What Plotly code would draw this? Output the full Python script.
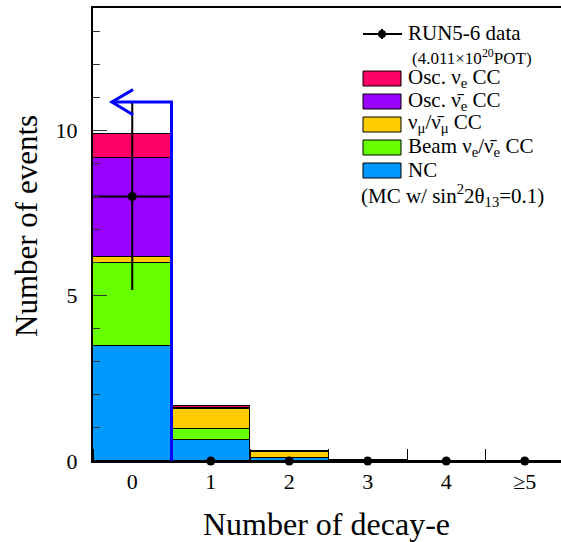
import numpy as np
import plotly.graph_objects as go

# ---- data -------------------------------------------------------------
bin_centers = [0, 1, 2, 3, 4, 5]
bin_labels = ["0", "1", "2", "3", "4", "≥5"]

nc = [3.49, 0.65, 0.08, 0.01, 0.0, 0.0]
beam_nue = [2.51, 0.33, 0.02, 0.0, 0.0, 0.0]
numu_cc = [0.18, 0.60, 0.18, 0.02, 0.0, 0.0]
osc_nuebar = [2.97, 0.01, 0.0, 0.0, 0.0, 0.0]
osc_nue = [0.74, 0.06, 0.01, 0.0, 0.0, 0.0]

data_counts = [8, 0, 0, 0, 0, 0]

cut_edge = 0.5        # selection: 0 decay-e
arrow_level = 10.86   # height of the cut arrow

FONT = "Liberation Serif"
COLORS = {
    "osc_nue": "#FF0066",
    "osc_nuebar": "#9900FF",
    "numu": "#FFCC00",
    "beam": "#66FF00",
    "nc": "#0099FF",
}

# ---- frame geometry (pixels) -------------------------------------------
W, H = 561, 542
L, R, T, B = 93, 0, 8, 81
plot_w = W - L - R
plot_h = H - T - B
px_per_bin = 78.5
x_range = [-0.5, -0.5 + plot_w / px_per_bin]
y_range = [0, 13.7]


def px(x):
    return (x - L) / plot_w


def py(y):
    return (H - B - y) / plot_h


fig = go.Figure()

stack = [
    ("NC", nc, COLORS["nc"]),
    ("Beam", beam_nue, COLORS["beam"]),
    ("numu", numu_cc, COLORS["numu"]),
    ("Osc nuebar", osc_nuebar, COLORS["osc_nuebar"]),
    ("Osc nue", osc_nue, COLORS["osc_nue"]),
]
for name, vals, col in stack:
    fig.add_trace(go.Bar(
        x=bin_centers, y=vals, name=name, width=1.0,
        marker=dict(color=col, line=dict(color="black", width=1)),
        showlegend=False, hoverinfo="skip",
    ))

errs = np.sqrt(np.array(data_counts, dtype=float))
fig.add_trace(go.Scatter(
    x=bin_centers, y=data_counts, mode="markers",
    marker=dict(color="black", size=9),
    error_y=dict(type="data", array=errs, width=0, thickness=2, color="black"),
    error_x=dict(type="constant", value=0.5, width=0, thickness=2, color="black"),
    cliponaxis=False, showlegend=False, hoverinfo="skip",
))

# ---- cut arrow ----------------------------------------------------------
blue = "#0000FF"
tip_x = -0.26
fig.add_shape(type="path",
              path=f"M {cut_edge} 0 L {cut_edge} {arrow_level} L {tip_x} {arrow_level}",
              line=dict(color=blue, width=3), layer="above")
fig.add_shape(type="path",
              path=f"M 0.01 {arrow_level + 0.37} L {tip_x} {arrow_level} L 0.01 {arrow_level - 0.39}",
              line=dict(color=blue, width=3), layer="above")

# ---- legend (drawn by hand) --------------------------------------------
annots = []


def label(x, y, text, size):
    annots.append(dict(xref="paper", yref="paper", x=px(x), y=py(y), text=text,
                       showarrow=False, xanchor="left", yanchor="middle",
                       font=dict(family=FONT, size=size, color="black")))


# data entry
fig.add_shape(type="line", xref="paper", yref="paper",
              x0=px(363), x1=px(402), y0=py(34), y1=py(34),
              line=dict(color="black", width=2))
fig.add_shape(type="line", xref="paper", yref="paper",
              x0=px(382), x1=px(382), y0=py(29), y1=py(39),
              line=dict(color="black", width=2))
fig.add_shape(type="circle", xref="paper", yref="paper",
              xsizemode="pixel", ysizemode="pixel",
              xanchor=px(382), yanchor=py(34),
              x0=-4, x1=4, y0=-4, y1=4,
              fillcolor="black", line=dict(color="black", width=0))
label(406, 33, "RUN5-6 data", 21)
label(410, 57, "(4.011×10<sup>20</sup>POT)", 17)

bar_v = "ν\u0304"
entries = [
    (COLORS["osc_nue"], "Osc. ν<sub>e</sub> CC"),
    (COLORS["osc_nuebar"], f"Osc. {bar_v}<sub>e</sub> CC"),
    (COLORS["numu"], f"ν<sub>μ</sub>/{bar_v}<sub>μ</sub> CC"),
    (COLORS["beam"], f"Beam ν<sub>e</sub>/{bar_v}<sub>e</sub> CC"),
    (COLORS["nc"], "NC"),
]
row0 = 78.5
for i, (col, txt) in enumerate(entries):
    yc = row0 + 23 * i
    fig.add_shape(type="rect", xref="paper", yref="paper",
                  x0=px(363), x1=px(401), y0=py(yc - 7.5), y1=py(yc + 7.5),
                  fillcolor=col, line=dict(color="black", width=1))
    label(406, yc - 1, txt, 21)
label(359, 195, "(MC w/ sin<sup>2</sup>2θ<sub>13</sub>=0.1)", 21)

# axis titles
annots.append(dict(xref="paper", yref="paper", x=px(326), y=py(524),
                   text="Number of decay-e", showarrow=False,
                   xanchor="center", yanchor="middle",
                   font=dict(family=FONT, size=32, color="black")))
annots.append(dict(xref="paper", yref="paper", x=px(26), y=py(226),
                   text="Number of events", showarrow=False, textangle=-90,
                   xanchor="center", yanchor="middle",
                   font=dict(family=FONT, size=31, color="black")))

fig.update_layout(
    width=W, height=H,
    margin=dict(l=L, r=R, t=T, b=B, pad=0),
    paper_bgcolor="white", plot_bgcolor="white",
    barmode="stack", bargap=0,
    annotations=annots,
    font=dict(family=FONT, color="black"),
)
fig.update_xaxes(
    range=x_range, showgrid=False, zeroline=False,
    showline=True, linecolor="black", linewidth=2, mirror=True,
    tickmode="array", tickvals=bin_centers, ticktext=bin_labels,
    ticks="", tickfont=dict(family=FONT, size=22, color="black"),
    ticklabelstandoff=0,
    minor=dict(tickmode="linear", tick0=0.5, dtick=1, ticks="inside",
               ticklen=12, tickwidth=1, tickcolor="black", showgrid=False),
)
fig.update_yaxes(
    range=y_range, showgrid=False, zeroline=False,
    showline=True, linecolor="black", linewidth=2, mirror=False,
    tickmode="array", tickvals=[0, 5, 10], ticktext=["0", "5", "10"],
    ticks="inside", ticklen=14, tickwidth=1, tickcolor="#333333",
    tickfont=dict(family=FONT, size=22, color="black"),
    ticklabelstandoff=9,
    minor=dict(tickmode="linear", tick0=0, dtick=1, ticks="inside",
               ticklen=7, tickwidth=1, tickcolor="#333333", showgrid=False),
)

fig.write_html("out.html")
